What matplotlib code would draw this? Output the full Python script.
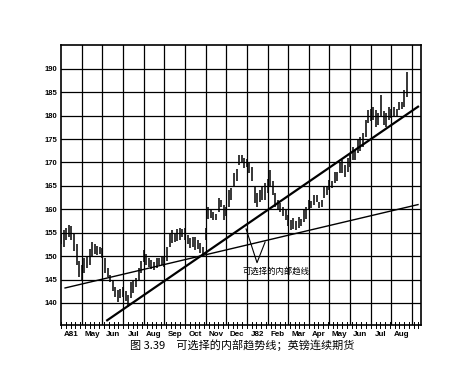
import numpy as np
import matplotlib
matplotlib.use("Agg")
import matplotlib.pyplot as plt

plt.rcParams['font.family'] = ['Liberation Sans', 'Noto Sans CJK SC', 'DejaVu Sans']

# months counted from 1 Apr 1981, one bar every 1/8 month
month_labels = ['A81', 'May', 'Jun', 'Jul', 'Aug', 'Sep', 'Oct', 'Nov', 'Dec',
                'J82', 'Feb', 'Mar', 'Apr', 'May', 'Jun', 'Jul', 'Aug']
y_ticks = [140, 145, 150, 155, 160, 165, 170, 175, 180, 185, 190]

lows = [152.5, 152.0, 153.5, 154.0, 153.5, 151.0, 148.0, 145.5, 144.9, 146.5,
        147.5, 148.0, 150.0, 150.5, 150.2, 150.5, 149.5, 146.5, 145.5, 144.5,
        142.5, 141.3, 140.2, 141.0, 141.3, 140.5, 139.1, 141.0, 142.2, 143.4,
        145.0, 146.5, 148.8, 148.0, 147.7, 147.2, 147.0, 147.5, 148.0, 148.0,
        147.7, 149.0, 152.0, 152.8, 153.0, 153.2, 153.5, 154.0, 153.5, 152.5,
        151.8, 152.0, 151.3, 151.5, 150.7, 150.4, 153.5, 158.0, 158.2, 157.7,
        157.8, 159.5, 160.5, 157.7, 158.5, 160.5, 162.0, 164.8, 166.0, 169.5,
        169.8, 168.8, 169.0, 167.8, 166.0, 161.4, 160.5, 161.5, 162.0, 162.0,
        163.5, 165.0, 163.0, 160.5, 160.0, 159.4, 158.5, 157.7, 156.5, 155.6,
        155.8, 155.6, 156.0, 156.5, 157.3, 158.0, 159.9, 160.3, 161.0, 161.5,
        160.3, 160.5, 162.4, 163.0, 164.1, 164.5, 165.6, 166.0, 167.8, 167.8,
        166.9, 168.0, 169.0, 170.5, 170.5, 172.0, 172.5, 173.3, 175.5, 178.5,
        178.8, 179.1, 177.6, 178.0, 179.7, 178.0, 177.6, 179.1, 179.5, 179.7,
        180.0, 181.2, 181.5, 181.9, 184.0]
highs = [155.0, 155.5, 156.0, 156.7, 156.5, 155.0, 152.5, 149.0, 148.0, 149.5,
         150.0, 151.5, 153.0, 152.5, 152.2, 152.0, 151.8, 149.5, 147.5, 146.0,
         145.0, 143.5, 142.7, 143.0, 143.4, 142.5, 141.7, 144.5, 144.8, 145.3,
         147.5, 149.0, 151.3, 150.5, 149.6, 149.2, 148.8, 149.6, 149.5, 150.0,
         149.8, 152.0, 155.0, 155.6, 155.0, 155.8, 156.0, 155.8, 156.0, 154.5,
         153.9, 154.0, 154.1, 153.5, 152.8, 152.0, 156.0, 160.5, 160.0, 159.4,
         159.0, 162.4, 162.0, 161.0, 160.5, 164.1, 164.5, 167.8, 168.5, 171.6,
         171.6, 171.0, 170.8, 170.1, 169.0, 164.8, 163.5, 164.1, 164.8, 165.6,
         166.5, 168.4, 166.0, 163.5, 162.0, 161.4, 160.5, 160.0, 158.8, 157.8,
         158.1, 157.5, 158.4, 158.0, 160.0, 160.5, 162.0, 161.8, 163.0, 163.0,
         161.6, 162.0, 164.8, 165.0, 166.3, 166.0, 168.0, 168.0, 170.1, 170.5,
         169.5, 171.0, 171.6, 173.3, 172.7, 174.8, 175.5, 176.3, 179.1, 181.2,
         181.5, 181.9, 181.2, 180.5, 184.4, 181.0, 180.5, 181.9, 181.5, 181.9,
         181.5, 183.0, 182.8, 185.5, 189.4]
bar_x = np.arange(len(lows)) / 8.0

# trend lines (month, price)
steep_x = [2.23, 17.29]
steep_y = [136.3, 181.9]
flat_x = [0.19, 17.29]
flat_y = [143.2, 161.0]

fig = plt.figure(figsize=(4.74, 3.77), dpi=100)
ax = fig.add_axes([0.129, 0.138, 0.759, 0.743])

ax.vlines(bar_x, lows, highs, color='black', lw=1.1)

ax.plot(steep_x, steep_y, color='black', lw=1.6)
ax.plot(flat_x, flat_y, color='black', lw=1.0)

# V shaped pointer to both lines
ax.plot([8.96, 9.49, 9.88], [155.8, 148.6, 153.0], color='black', lw=0.8)
ax.text(8.81, 146.8, '可选择的内部趋线', fontsize=6, va='center', ha='left',
        family=['Noto Sans CJK SC', 'DejaVu Sans'])

ax.set_xlim(0, 17.43)
ax.set_ylim(135.3, 195.1)

ax.set_yticks(y_ticks)
ax.set_yticklabels([str(v) for v in y_ticks], fontsize=5.5, fontweight='bold')
ax.tick_params(axis='y', length=0, pad=3)

ax.set_xticks(np.arange(1, 18))
ax.set_xticklabels([])
ax.set_xticks(np.arange(len(month_labels)) + 0.5, minor=True)
ax.set_xticklabels(month_labels, minor=True, fontsize=5.8, fontweight='bold')
ax.tick_params(axis='x', which='major', length=0)
ax.tick_params(axis='x', which='minor', length=0, pad=4)

# weekly ticks on the bottom axis
for wx in np.arange(0, 17.43, 12 / 52):
    ax.plot([wx, wx], [135.3 - 0.7, 135.3 + 0.7], color='black', lw=0.7,
            clip_on=False)

ax.grid(True, which='major', color='black', lw=0.9)
for s in ax.spines.values():
    s.set_linewidth(1.2)

fig.text(0.51, 1 - 345 / 377, '图 3.39　可选择的内部趋势线；英镑连续期货', fontsize=8,
         ha='center', va='center', family=['Noto Sans CJK SC', 'DejaVu Sans'])

fig.savefig('out.png', dpi=100)
